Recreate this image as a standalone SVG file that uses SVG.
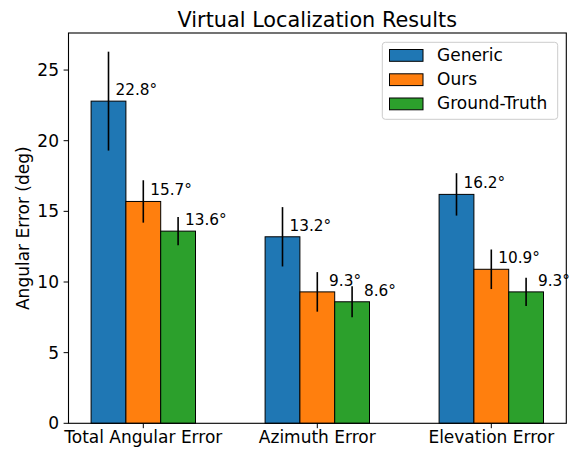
<svg xmlns="http://www.w3.org/2000/svg" width="579" height="449" viewBox="0 0 579 449">
  <style>
    text { font-family: "DejaVu Sans", "Liberation Sans", sans-serif; fill: #000; }
    .title { font-size: 20.8px; text-anchor: middle; }
    .tick { font-size: 17px; }
    .ytick { text-anchor: end; }
    .xtick { text-anchor: middle; }
    .val { font-size: 15.3px; text-anchor: middle; }
    .leg { font-size: 17px; }
    .generic { fill: #1f77b4; stroke: #000; stroke-width: 1; }
    .ours { fill: #ff7f0e; stroke: #000; stroke-width: 1; }
    .gt { fill: #2ca02c; stroke: #000; stroke-width: 1; }
    .err { stroke: #000; stroke-width: 1.6; }
    .tk { stroke: #000; stroke-width: 1; }
    .spine { fill: none; stroke: #000; stroke-width: 1.1; }
  </style>
  <rect width="579" height="449" fill="#fff"/>

  <text class="title" x="317.3" y="26.7">Virtual Localization Results</text>

  <!-- bars -->
  <g id="bars-generic">
    <rect class="generic" x="91.1" y="101.14" width="34.8" height="322.16"/>
    <rect class="generic" x="265.1" y="236.78" width="34.8" height="186.52"/>
    <rect class="generic" x="439.1" y="194.39" width="34.8" height="228.91"/>
  </g>
  <g id="bars-ours">
    <rect class="ours" x="125.9" y="201.46" width="34.8" height="221.84"/>
    <rect class="ours" x="299.9" y="291.89" width="34.8" height="131.41"/>
    <rect class="ours" x="473.9" y="269.28" width="34.8" height="154.02"/>
  </g>
  <g id="bars-gt">
    <rect class="gt" x="160.7" y="231.13" width="34.8" height="192.17"/>
    <rect class="gt" x="334.7" y="301.78" width="34.8" height="121.52"/>
    <rect class="gt" x="508.7" y="291.89" width="34.8" height="131.41"/>
  </g>

  <!-- error bars -->
  <g id="errorbars">
    <line class="err" x1="108.5" y1="150.59" x2="108.5" y2="51.68"/>
    <line class="err" x1="143.3" y1="222.65" x2="143.3" y2="180.26"/>
    <line class="err" x1="178.1" y1="245.26" x2="178.1" y2="217.0"/>
    <line class="err" x1="282.5" y1="266.46" x2="282.5" y2="207.11"/>
    <line class="err" x1="317.3" y1="311.67" x2="317.3" y2="272.11"/>
    <line class="err" x1="352.1" y1="317.33" x2="352.1" y2="286.24"/>
    <line class="err" x1="456.5" y1="215.59" x2="456.5" y2="173.2"/>
    <line class="err" x1="491.3" y1="289.07" x2="491.3" y2="249.5"/>
    <line class="err" x1="526.1" y1="306.02" x2="526.1" y2="277.76"/>
  </g>

  <!-- value labels -->
  <g id="values">
    <text class="val" x="136.3" y="94.9">22.8°</text>
    <text class="val" x="171.1" y="195.3">15.7°</text>
    <text class="val" x="205.9" y="224.9">13.6°</text>
    <text class="val" x="310.3" y="230.6">13.2°</text>
    <text class="val" x="345.1" y="285.7">9.3°</text>
    <text class="val" x="379.9" y="295.6">8.6°</text>
    <text class="val" x="484.3" y="188.2">16.2°</text>
    <text class="val" x="519.1" y="263.1">10.9°</text>
    <text class="val" x="553.9" y="285.7">9.3°</text>
  </g>

  <!-- axes frame -->
  <rect class="spine" x="68.5" y="33" width="497.8" height="390.3"/>

  <!-- y axis -->
  <g id="y-axis">
    <line class="tk" x1="63.6" y1="423.3" x2="68.5" y2="423.3"/>
    <line class="tk" x1="63.6" y1="352.65" x2="68.5" y2="352.65"/>
    <line class="tk" x1="63.6" y1="282" x2="68.5" y2="282"/>
    <line class="tk" x1="63.6" y1="211.35" x2="68.5" y2="211.35"/>
    <line class="tk" x1="63.6" y1="140.7" x2="68.5" y2="140.7"/>
    <line class="tk" x1="63.6" y1="70.05" x2="68.5" y2="70.05"/>
    <text class="tick ytick" x="59" y="429.3">0</text>
    <text class="tick ytick" x="59" y="358.65">5</text>
    <text class="tick ytick" x="59" y="288">10</text>
    <text class="tick ytick" x="59" y="217.35">15</text>
    <text class="tick ytick" x="59" y="146.7">20</text>
    <text class="tick ytick" x="59" y="76.05">25</text>
    <text class="tick" x="29" y="228.2" text-anchor="middle" transform="rotate(-90 29 228.2)">Angular Error (deg)</text>
  </g>

  <!-- x axis -->
  <g id="x-axis">
    <line class="tk" x1="143.3" y1="423.3" x2="143.3" y2="428.2"/>
    <line class="tk" x1="317.3" y1="423.3" x2="317.3" y2="428.2"/>
    <line class="tk" x1="491.3" y1="423.3" x2="491.3" y2="428.2"/>
    <text class="tick xtick" x="143.3" y="442.6">Total Angular Error</text>
    <text class="tick xtick" x="317.3" y="442.6">Azimuth Error</text>
    <text class="tick xtick" x="491.3" y="442.6">Elevation Error</text>
  </g>

  <!-- legend -->
  <g id="legend">
    <rect x="382.3" y="42.3" width="175.4" height="77" rx="3" fill="#fff" fill-opacity="0.8" stroke="#ccc" stroke-width="1"/>
    <rect class="generic" x="389.5" y="49.5" width="33.5" height="11.8"/>
    <rect class="ours" x="389.5" y="73.8" width="33.5" height="11.8"/>
    <rect class="gt" x="389.5" y="98" width="33.5" height="11.8"/>
    <text class="leg" x="437" y="60.8">Generic</text>
    <text class="leg" x="437" y="85.1">Ours</text>
    <text class="leg" x="437" y="109.4">Ground-Truth</text>
  </g>
</svg>
